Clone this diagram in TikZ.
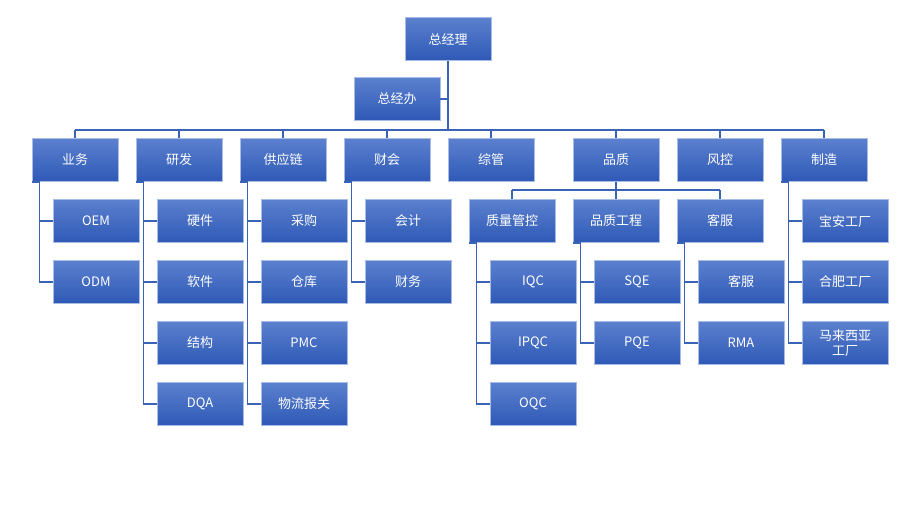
\documentclass[tikz,border=0pt]{standalone}
\usepackage{fontspec}
\setmainfont{Noto Sans CJK SC}
\begin{document}
\begin{tikzpicture}[x=1pt,y=-1pt,
  box/.style={rectangle,minimum width=86pt,minimum height=43pt,inner sep=1pt,
    top color=c1,bottom color=c2,draw=c3,line width=0.8pt,text=white,
    font=\fontsize{13}{15}\selectfont,align=center},
  ln/.style={draw=c4,line width=1.2pt}]
\definecolor{c1}{HTML}{5B80CE}
\definecolor{c2}{HTML}{2E59B6}
\definecolor{c3}{HTML}{A9BCE6}
\definecolor{c4}{HTML}{3A62B5}
\useasboundingbox (0,0) rectangle (911,522);
\fill[white] (0,0) rectangle (911,522);
\node[box] (gm) at (448,39) {总经理};
\node[box] (go) at (397,99) {总经办};
\coordinate (bus) at (448,130);
\draw[ln] (gm.south) -- (bus);
\draw[ln] (go.east) -- (go.east -| gm);
\foreach \n/\t/\x in {yw/业务/75,yf/研发/179,gy/供应链/283,ck/财会/387,zg/综管/491,pz/品质/616,fk/风控/720,zz/制造/824}{
  \node[box] (\n) at (\x,160) {\t};
  \draw[ln] (\n.north) -- (\x,130);
}
\draw[ln] (75,130) -- (824,130);
% children
\newcommand\kids[3]{% parent, x center of parent, list
  \foreach \t [count=\i] in {#3}{
    \node[box] (#1k\i) at (#2+21,160+61*\i) {\t};
    \draw[ln] (#1k\i.west) -- (#2-34,160+61*\i);
    \xdef\last{\i}
  }
  \draw[ln] (#1.south -| {(#2-34,0)}) ++(0,0) coordinate (tmp);
}
\newcommand\kidsb[3]{%
  \foreach \t [count=\i] in {#3}{
    \node[box] (#1k\i) at (#2+21,160+61*\i) {\t};
    \draw[ln] (#1k\i.west) -- ++(-13,0) |- (#1.south west);
  }
}
\kidsb{yw}{75}{OEM,ODM}
\kidsb{yf}{179}{硬件,软件,结构,DQA}
\kidsb{gy}{283}{采购,仓库,PMC,物流报关}
\kidsb{ck}{387}{会计,财务}
\foreach \t [count=\i] in {宝安工厂,合肥工厂,{马来西亚\\工厂}}{
  \node[box] (zzk\i) at (845,160+61*\i) {\t};
  \draw[ln] (zzk\i.west) -- ++(-13,0) |- (zz.south west);
}
% quality subgroups
\draw[ln] (pz.south) -- (616,190);
\draw[ln] (512,190) -- (720,190);
\foreach \n/\t/\x in {qa/质量管控/512,qe/品质工程/616,kf/客服/720}{
  \node[box] (\n) at (\x,221) {\t};
  \draw[ln] (\n.north) -- (\x,190);
}
\foreach \t [count=\i] in {IQC,IPQC,OQC}{
  \node[box] (qak\i) at (533,221+61*\i) {\t};
  \draw[ln] (qak\i.west) -- ++(-13,0) |- (qa.south west);
}
\foreach \t [count=\i] in {SQE,PQE}{
  \node[box] (qek\i) at (637,221+61*\i) {\t};
  \draw[ln] (qek\i.west) -- ++(-13,0) |- (qe.south west);
}
\foreach \t [count=\i] in {客服,RMA}{
  \node[box] (kfk\i) at (741,221+61*\i) {\t};
  \draw[ln] (kfk\i.west) -- ++(-13,0) |- (kf.south west);
}
\end{tikzpicture}
\end{document}
